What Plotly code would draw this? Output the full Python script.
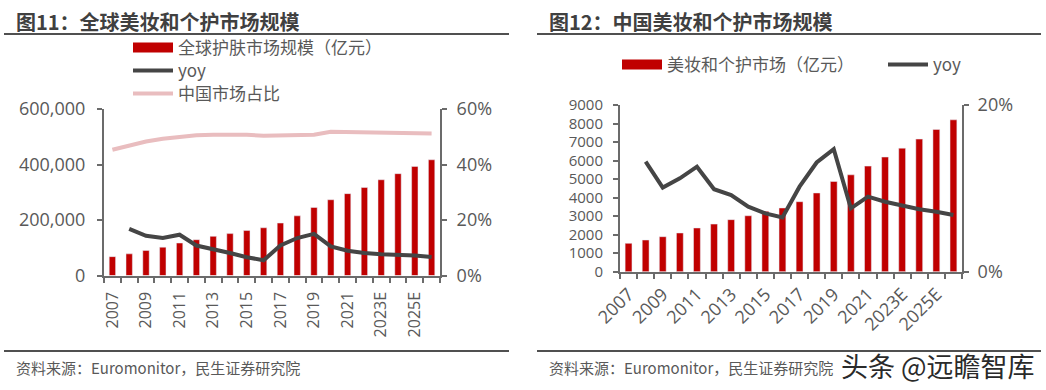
import plotly.graph_objects as go

years = ["2007", "2008", "2009", "2010", "2011", "2012", "2013", "2014", "2015", "2016",
         "2017", "2018", "2019", "2020", "2021", "2022", "2023E", "2024E", "2025E", "2026E"]
tick_years = ["2007", "2009", "2011", "2013", "2015", "2017", "2019", "2021", "2023E", "2025E"]

# 图11 global
global_skin = [68000, 78000, 90000, 102000, 117000, 129000, 141000, 151000, 162000, 172000,
               189000, 215000, 245000, 273000, 295000, 317000, 345000, 367000, 393000, 417000]
global_yoy = [None, 0.168, 0.143, 0.135, 0.147, 0.108, 0.096, 0.081, 0.066, 0.055,
              0.108, 0.135, 0.150, 0.105, 0.089, 0.081, 0.077, 0.075, 0.072, 0.067]
china_share = [0.453, 0.469, 0.483, 0.493, 0.500, 0.505, 0.507, 0.508, 0.507, 0.504,
               0.506, 0.507, 0.507, 0.518, 0.517, 0.514, 0.513, 0.513, 0.512, 0.512]

# 图12 China
china_market = [1530, 1710, 1890, 2090, 2360, 2570, 2810, 3020, 3260, 3440,
                3780, 4250, 4870, 5230, 5700, 6190, 6670, 7160, 7680, 8200]
china_yoy = [None, 0.132, 0.101, 0.112, 0.126, 0.099, 0.092, 0.078, 0.070, 0.065,
             0.102, 0.131, 0.147, 0.076, 0.090, 0.084, 0.079, 0.075, 0.072, 0.068]

title1 = "图11：全球美妆和个护市场规模"
title2 = "图12：中国美妆和个护市场规模"
source = "资料来源：Euromonitor，民生证券研究院"
watermark = "头条 @远瞻智库"

RED = "#C00000"
DARK = "#454545"
PINK = "#E9BDBF"
AX = "#6b6b6b"
TXT = "#595959"
FONT = "Open Sans, Noto Sans CJK SC, sans-serif"
CJK = "Noto Sans CJK SC, sans-serif"

W, H = 1046, 390
idx = list(range(len(years)))
tick_idx = [years.index(t) for t in tick_years]

fig = go.Figure()

# ---- left chart
fig.add_trace(go.Bar(x=idx, y=global_skin, marker_color=RED, width=0.38, showlegend=False,
                     xaxis="x", yaxis="y"))
fig.add_trace(go.Scatter(x=idx, y=china_share, mode="lines", line=dict(color=PINK, width=4),
                         showlegend=False, xaxis="x", yaxis="y2"))
fig.add_trace(go.Scatter(x=idx, y=global_yoy, mode="lines", line=dict(color=DARK, width=4),
                         showlegend=False, xaxis="x", yaxis="y2"))
# legend entries left (one legend per row)
fig.add_trace(go.Scatter(x=[None], y=[None], mode="lines", line=dict(color=RED, width=11),
                         name="全球护肤市场规模（亿元）", legend="legend", xaxis="x", yaxis="y"))
fig.add_trace(go.Scatter(x=[None], y=[None], mode="lines", line=dict(color=DARK, width=4),
                         name="yoy", legend="legend3", xaxis="x", yaxis="y"))
fig.add_trace(go.Scatter(x=[None], y=[None], mode="lines", line=dict(color=PINK, width=4),
                         name="中国市场占比", legend="legend4", xaxis="x", yaxis="y"))

# ---- right chart
fig.add_trace(go.Bar(x=idx, y=china_market, marker_color=RED, width=0.4, showlegend=False,
                     xaxis="x2", yaxis="y3"))
fig.add_trace(go.Scatter(x=idx, y=china_yoy, mode="lines", line=dict(color=DARK, width=4),
                         showlegend=False, xaxis="x2", yaxis="y4"))
fig.add_trace(go.Scatter(x=[None], y=[None], mode="lines", line=dict(color=RED, width=11),
                         name="美妆和个护市场（亿元）", legend="legend2", xaxis="x2", yaxis="y3"))
fig.add_trace(go.Scatter(x=[None], y=[None], mode="lines", line=dict(color=DARK, width=4),
                         name="yoy", legend="legend5", xaxis="x2", yaxis="y3"))

def px_x(p):
    return p / W

def px_y(p):
    return 1 - p / H

def xcommon(size, standoff):
    return dict(range=[-0.5, len(years) - 0.5], tickmode="array", tickvals=tick_idx, ticktext=tick_years,
                showline=True, linecolor=AX, linewidth=2, ticks="", showgrid=False, zeroline=False,
                automargin=False, ticklabelstandoff=standoff,
                tickfont=dict(size=size, color=TXT, family=FONT),
                minor=dict(ticks="outside", tick0=0.5, dtick=1, ticklen=5, tickcolor=AX, tickwidth=1.5))

def ycommon(size, standoff):
    return dict(showline=True, linecolor=AX, linewidth=2, ticks="outside", ticklen=5, tickcolor=AX,
                tickwidth=1.5, showgrid=False, zeroline=False, automargin=False,
                ticklabelstandoff=standoff,
                tickfont=dict(size=size, color=TXT, family=FONT))

def leg(x, y):
    return dict(x=px_x(x), y=px_y(y), xanchor="left", yanchor="middle", orientation="v",
                font=dict(size=17, color=TXT, family=CJK), itemwidth=40, tracegroupgap=0,
                bgcolor="rgba(0,0,0,0)", borderwidth=0)

fig.update_layout(
    width=W, height=H, margin=dict(l=0, r=0, t=0, b=0, autoexpand=False),
    paper_bgcolor="white", plot_bgcolor="white",
    font=dict(family=FONT, color=TXT),
    xaxis=dict(domain=[px_x(104), px_x(440)], anchor="y", tickangle=-90, **xcommon(16, 8)),
    yaxis=dict(domain=[px_y(275.5), px_y(109)], range=[0, 600000], dtick=200000, tickformat=",",
               anchor="x", **ycommon(18, 8)),
    yaxis2=dict(overlaying="y", side="right", range=[0, 0.6], dtick=0.2, tickformat=".0%",
                anchor="x", **ycommon(18, 6)),
    xaxis2=dict(domain=[px_x(620), px_x(962)], anchor="y3", tickangle=-45, **xcommon(18, 3)),
    yaxis3=dict(domain=[px_y(271.7), px_y(105)], range=[0, 9000], dtick=1000, anchor="x2",
                **ycommon(15, 7)),
    yaxis4=dict(overlaying="y3", side="right", range=[0, 0.2], dtick=0.2, tickformat=".0%",
                anchor="x2", **ycommon(18, 5)),
    legend=leg(128, 48),
    legend3=leg(128, 71),
    legend4=leg(128, 94),
    legend2=leg(617, 65),
    legend5=leg(883, 65),
)

# titles
for x0, t in [(14, title1), (547, title2)]:
    fig.add_annotation(x=px_x(x0), y=px_y(21), xref="paper", yref="paper", text="<b>" + t + "</b>",
                       showarrow=False, xanchor="left", yanchor="middle",
                       font=dict(size=20, color="#404040", family=CJK))
for x0, x1 in [(4, 509), (537, 1041)]:
    fig.add_shape(type="line", xref="paper", yref="paper", x0=px_x(x0), x1=px_x(x1), y0=px_y(34), y1=px_y(34),
                  line=dict(color="#505050", width=2))
    fig.add_shape(type="line", xref="paper", yref="paper", x0=px_x(x0), x1=px_x(x1), y0=px_y(351), y1=px_y(351),
                  line=dict(color="#505050", width=2))
for x0 in (14, 547):
    fig.add_annotation(x=px_x(x0), y=px_y(367), xref="paper", yref="paper", text=source,
                       showarrow=False, xanchor="left", yanchor="middle",
                       font=dict(size=15, color=TXT, family=CJK))
fig.add_annotation(x=px_x(1037), y=px_y(365), xref="paper", yref="paper", text=watermark,
                   showarrow=False, xanchor="right", yanchor="middle",
                   font=dict(size=27, color="#2a2a2a", family=CJK))

fig.write_html("out.html", config={"displayModeBar": False},
               post_script="document.body.style.margin='0px';document.body.style.overflow='hidden';")
